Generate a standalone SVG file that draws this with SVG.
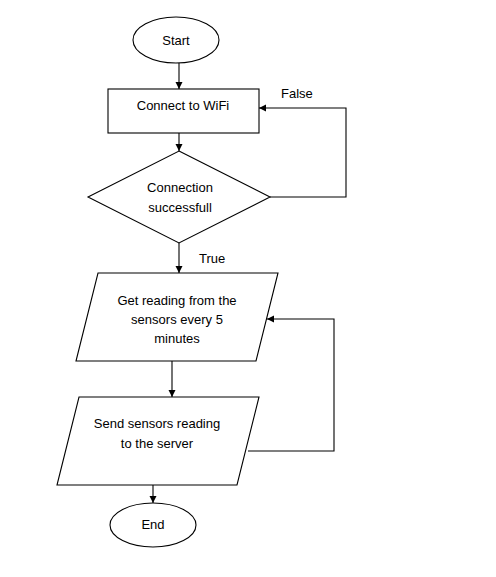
<svg xmlns="http://www.w3.org/2000/svg" width="496" height="577" viewBox="0 0 496 577">
<style>
.s{fill:#fff;stroke:#000;stroke-width:1.1}
.t{font-family:"Liberation Sans",Arial,sans-serif;font-size:13px;fill:#000;text-anchor:middle}
.l{font-family:"Liberation Sans",Arial,sans-serif;font-size:13px;fill:#000}
.c{fill:none;stroke:#000;stroke-width:1.1}
</style>
<defs>
<marker id="a" markerWidth="8" markerHeight="8" refX="7" refY="4" orient="auto" markerUnits="userSpaceOnUse">
<path d="M0,0.5 L7,4 L0,7.5 Z" fill="#000"/>
</marker>
</defs>
<rect width="496" height="577" fill="#fff"/>
<g id="connectors">
<line class="c" x1="179" y1="63" x2="179" y2="89" marker-end="url(#a)"/>
<line class="c" x1="179" y1="133" x2="179" y2="151" marker-end="url(#a)"/>
<polyline class="c" points="270,197 346,197 346,108 259,108" marker-end="url(#a)"/>
<line class="c" x1="179" y1="243" x2="179" y2="273" marker-end="url(#a)"/>
<line class="c" x1="172" y1="361" x2="172" y2="397" marker-end="url(#a)"/>
<polyline class="c" points="248,451 334,451 334,319 267,319" marker-end="url(#a)"/>
<line class="c" x1="153" y1="485" x2="153" y2="503" marker-end="url(#a)"/>
<text class="l" x="281" y="98">False</text>
<text class="l" x="199" y="263">True</text>
</g>
<g id="start">
<ellipse class="s" cx="176" cy="40" rx="43" ry="23"/>
<text class="t" x="176" y="45">Start</text>
</g>
<g id="connect">
<rect class="s" x="108" y="89" width="151" height="44"/>
<text class="t" x="183" y="110">Connect to WiFi</text>
</g>
<g id="decision">
<polygon class="s" points="179,151 270,197 179,243 88,197"/>
<text class="t" x="180" y="192">Connection</text>
<text class="t" x="180" y="212">successfull</text>
</g>
<g id="read">
<polygon class="s" points="98,273 278,273 256,361 76,361"/>
<text class="t" x="177" y="305">Get reading from the</text>
<text class="t" x="177" y="324">sensors every 5</text>
<text class="t" x="177" y="343">minutes</text>
</g>
<g id="send">
<polygon class="s" points="79,397 259,397 237,485 57,485"/>
<text class="t" x="157" y="428">Send sensors reading</text>
<text class="t" x="157" y="448">to the server</text>
</g>
<g id="end">
<ellipse class="s" cx="153" cy="525" rx="43" ry="22"/>
<text class="t" x="153" y="529">End</text>
</g>
</svg>
